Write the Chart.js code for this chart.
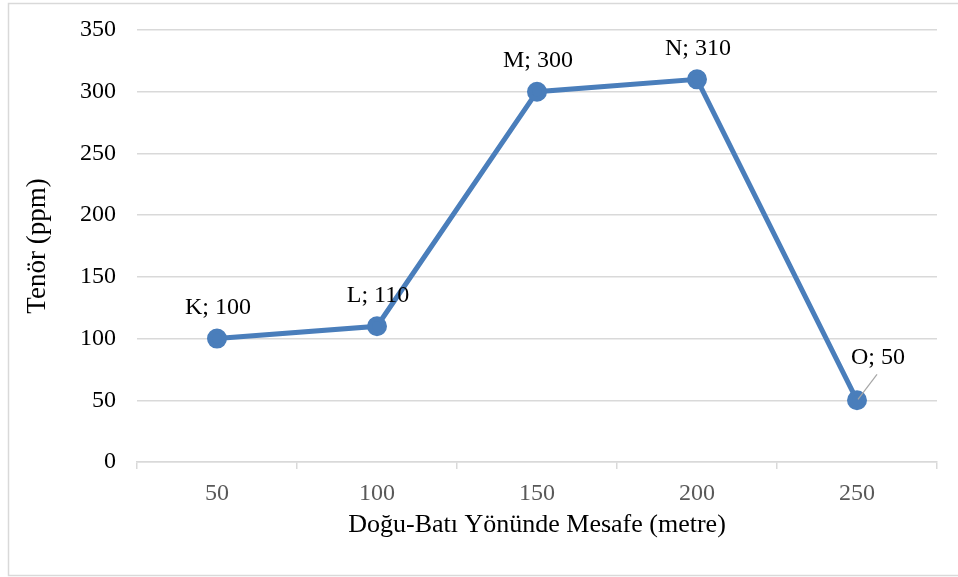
<!DOCTYPE html>
<html>
<head>
<meta charset="utf-8">
<script src="https://cdn.jsdelivr.net/npm/chart.js@4/dist/chart.umd.min.js"></script>
<style>
html,body{margin:0;padding:0;background:#fff;}
#wrap{position:relative;width:958px;height:577px;}
</style>
</head>
<body>
<div id="wrap"><canvas id="c" width="958" height="577"></canvas></div>
<script>
const categories = ['50', '100', '150', '200', '250'];
const pointNames = ['K', 'L', 'M', 'N', 'O'];
const tenorValues = [100, 110, 300, 310, 50];
const yTicks = [0, 50, 100, 150, 200, 250, 300, 350];
const xTitle = 'Doğu-Batı Yönünde Mesafe (metre)';
const yTitle = 'Tenör (ppm)';

const SERIF = '"Liberation Serif", "Times New Roman", serif';
const lineColor = '#4a7ebb';

const labelPlugin = {
  id: 'pointLabels',
  afterDatasetsDraw(chart) {
    const ctx = chart.ctx;
    const meta = chart.getDatasetMeta(0);
    ctx.save();
    ctx.font = '24px ' + SERIF;
    ctx.fillStyle = '#000';
    ctx.textAlign = 'center';
    ctx.textBaseline = 'middle';
    meta.data.forEach((pt, i) => {
      const txt = pointNames[i] + '; ' + tenorValues[i];
      if (i === tenorValues.length - 1) {
        ctx.strokeStyle = '#a6a6a6';
        ctx.lineWidth = 1.2;
        ctx.beginPath();
        ctx.moveTo(pt.x + 1, pt.y - 1);
        ctx.lineTo(pt.x + 20, pt.y - 26);
        ctx.stroke();
        ctx.fillText(txt, pt.x + 21, pt.y - 43);
      } else {
        ctx.fillText(txt, pt.x + 1, pt.y - 31);
      }
    });
    ctx.restore();
  }
};

const borderPlugin = {
  id: 'outerBorder',
  beforeDraw(chart) {
    const ctx = chart.ctx;
    ctx.save();
    ctx.fillStyle = '#fff';
    ctx.fillRect(0, 0, chart.width, chart.height);
    ctx.strokeStyle = '#d9d9d9';
    ctx.lineWidth = 1.5;
    ctx.strokeRect(8.5, 3.5, 960, 572);
    ctx.restore();
  }
};

new Chart(document.getElementById('c'), {
  type: 'line',
  data: {
    labels: categories,
    datasets: [{
      data: tenorValues,
      borderColor: lineColor,
      backgroundColor: lineColor,
      borderWidth: 5,
      pointRadius: 7.5,
      pointHoverRadius: 7.5,
      pointBackgroundColor: lineColor,
      pointBorderColor: lineColor,
      tension: 0,
      fill: false
    }]
  },
  options: {
    responsive: false,
    animation: false,
    layout: { padding: { left: 0, right: 21, top: 30, bottom: 0 } },
    plugins: { legend: { display: false }, tooltip: { enabled: false } },
    scales: {
      x: {
        type: 'category',
        offset: true,
        grid: {
          offset: true,
          display: true,
          drawOnChartArea: false,
          drawTicks: true,
          tickLength: 7,
          color: '#d9d9d9',
          lineWidth: 1.5
        },
        border: { display: true, color: '#d9d9d9', width: 1.5 },
        ticks: {
          color: '#595959',
          font: { family: SERIF, size: 24 },
          padding: 10,
          maxRotation: 0
        },
        title: {
          display: true,
          text: xTitle,
          color: '#000',
          font: { family: SERIF, size: 26 },
          padding: { top: 0, bottom: 36 }
        },
        afterFit(scale) {
          scale.height = 115;
          scale.paddingLeft = 0; scale.paddingRight = 0;
        }
      },
      y: {
        min: 0,
        max: 350,
        afterBuildTicks(scale) { scale.ticks = yTicks.map(v => ({ value: v })); },
        grid: {
          color: '#d9d9d9',
          lineWidth: 1.5,
          drawTicks: false
        },
        border: { display: false },
        ticks: {
          color: '#000',
          font: { family: SERIF, size: 24 },
          padding: 21
        },
        title: {
          display: true,
          text: yTitle,
          color: '#000',
          font: { family: SERIF, size: 27 },
          padding: { top: 22, bottom: 0 }
        },
        afterFit(scale) {
          scale.width = 137;
          scale.paddingTop = 0; scale.paddingBottom = 0;
        }
      }
    }
  },
  plugins: [borderPlugin, labelPlugin]
});
</script>
</body>
</html>
